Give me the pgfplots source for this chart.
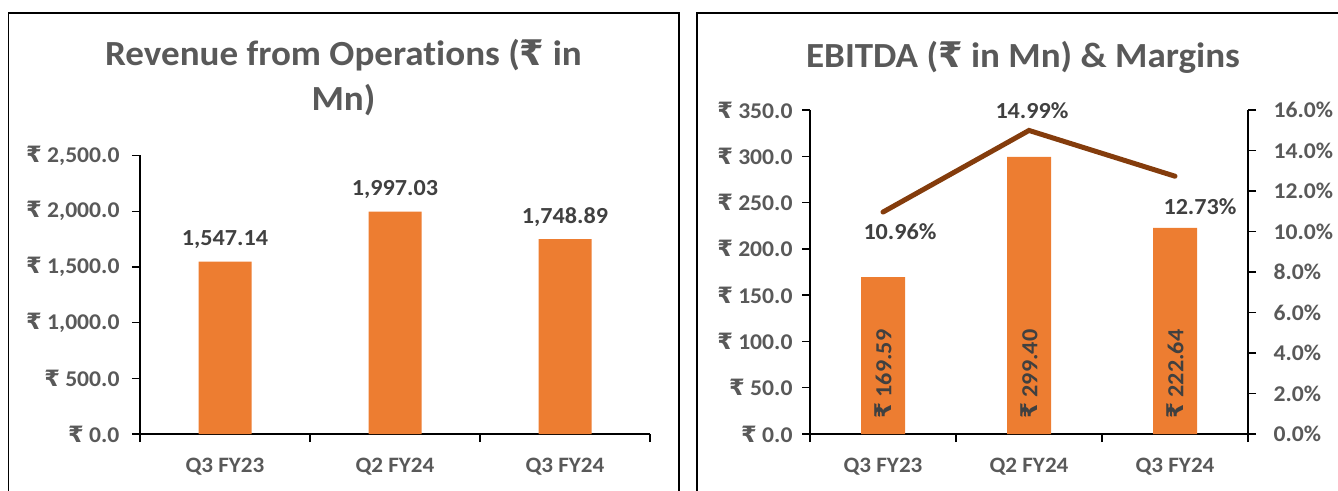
\documentclass[border=0pt]{standalone}
\usepackage{fontspec}
\setmainfont{Carlito}[FakeStretch=1.05, Ligatures={NoCommon}]
\newfontfamily\rupfont{DejaVu Sans}
\usepackage{pgfplots}
\pgfplotsset{compat=1.18}
\definecolor{barorange}{HTML}{ED7D31}
\definecolor{linebrown}{HTML}{843C0C}
\definecolor{txtgray}{HTML}{595959}
\definecolor{lblgray}{HTML}{404040}
\newcommand{\Rs}{{\rupfont\bfseries ₹}}
\newcommand{\tickfont}{\fontsize{22.5}{26}\selectfont\bfseries}
\newcommand{\lblfont}{\fontsize{23}{27}\selectfont\bfseries}
\newcommand{\titfont}{\fontsize{35.3}{45}\selectfont\bfseries}
\pgfplotsset{
  common/.style={
    scale only axis, anchor=south west,
    xmin=-0.5, xmax=2.5, ymin=0,
    axis line style={black, line width=1.3pt},
    tick align=outside, major tick length=8pt,
    every tick/.style={black, line width=1.3pt},
    tick label style={font=\tickfont, text=txtgray},
    xtick={0,1,2}, xticklabels={Q3 FY23,Q2 FY24,Q3 FY24},
    x tick label style={font=\fontsize{22}{26}\selectfont\bfseries, yshift=-13pt},
    major x tick style={draw=none},
    extra x ticks={-0.5,0.5,1.5,2.5},
    extra x tick labels={},
    extra x tick style={major x tick style={draw=black, line width=1.3pt}},
    clip=false,
  }
}
\begin{document}
\begin{tikzpicture}[x=1pt,y=1pt]
\useasboundingbox (0,0) rectangle (1338,490);
% panel borders
\draw[line width=1.5pt, black] (8.5,-5) -- (8.5,477) -- (679,477) -- (679,-5);
\draw[line width=1.5pt, black] (697,-5) -- (697,477) -- (1345,477);
% titles
\node[font=\titfont, text=txtgray, align=center] at (343.5,412) {Revenue from Operat\kern0pt ions (\Rs{} in\\Mn)};
\node[font=\titfont, text=txtgray] at (1023,433) {EBITDA (\Rs{} in Mn) \& Margins};

% left chart
\begin{axis}[common,
  at={(140pt,56pt)}, width=510pt, height=278.5pt,
  ymax=2500,
  axis x line*=bottom, axis y line*=left,
  ytick={0,500,1000,1500,2000,2500},
  yticklabels={{\Rs{} 0.0},{\Rs{} 500.0},{\Rs{} 1,000.0},{\Rs{} 1,500.0},{\Rs{} 2,000.0},{\Rs{} 2,500.0}},
  y tick label style={xshift=-9pt},
]
\addplot[ybar, bar width=53pt, fill=barorange, draw=none,
  point meta=explicit symbolic,
  nodes near coords,
  every node near coord/.style={anchor=base, yshift=16pt, inner sep=0pt, font=\lblfont, text=lblgray}]
  coordinates {(0,1547.14) [1,547.14] (1,1997.03) [1,997.03] (2,1748.89) [1,748.89]};
\end{axis}

% right chart: bars
\begin{axis}[common,
  at={(810pt,56pt)}, width=438pt, height=324pt,
  ymax=350,
  axis x line*=bottom, axis y line*=left,
  ytick={0,50,...,350},
  yticklabels={{\Rs{} 0.0},{\Rs{} 50.0},{\Rs{} 100.0},{\Rs{} 150.0},{\Rs{} 200.0},{\Rs{} 250.0},{\Rs{} 300.0},{\Rs{} 350.0}},
  y tick label style={xshift=-6pt},
]
\addplot[ybar, bar width=44pt, fill=barorange, draw=none] coordinates {(0,169.59) (1,299.40) (2,222.64)};
\addplot[draw=none, point meta=explicit symbolic, nodes near coords,
  every node near coord/.style={rotate=90, anchor=west, inner sep=0pt, font=\lblfont, text=lblgray}]
  coordinates {(0,16.2) [\Rs{} 169.59] (1,16.2) [\Rs{} 299.40] (2,16.2) [\Rs{} 222.64]};
\end{axis}

% right chart: margins line
\begin{axis}[common,
  at={(810pt,56pt)}, width=438pt, height=324pt,
  ymax=16,
  axis x line=none, axis y line*=right,
  ytick={0,2,...,16},
  yticklabels={0.0\%,2.0\%,4.0\%,6.0\%,8.0\%,10.0\%,12.0\%,14.0\%,16.0\%},
  y tick label style={xshift=14pt},
]
\addplot[linebrown, line width=5pt, line cap=round, line join=miter, mark=none]
  coordinates {(0,10.96) (1,14.99) (2,12.73)};
\addplot[draw=none, point meta=explicit symbolic, nodes near coords,
  every node near coord/.style={anchor=center, xshift=17pt, yshift=-20pt, inner sep=0pt, font=\lblfont, text=lblgray}]
  coordinates {(0,10.96) [10.96\%]};
\addplot[draw=none, point meta=explicit symbolic, nodes near coords,
  every node near coord/.style={anchor=center, xshift=3pt, yshift=20pt, inner sep=0pt, font=\lblfont, text=lblgray}]
  coordinates {(1,14.99) [14.99\%]};
\addplot[draw=none, point meta=explicit symbolic, nodes near coords,
  every node near coord/.style={anchor=center, xshift=25pt, yshift=-30pt, inner sep=0pt, font=\lblfont, text=lblgray}]
  coordinates {(2,12.73) [12.73\%]};
\end{axis}
\end{tikzpicture}
\end{document}
